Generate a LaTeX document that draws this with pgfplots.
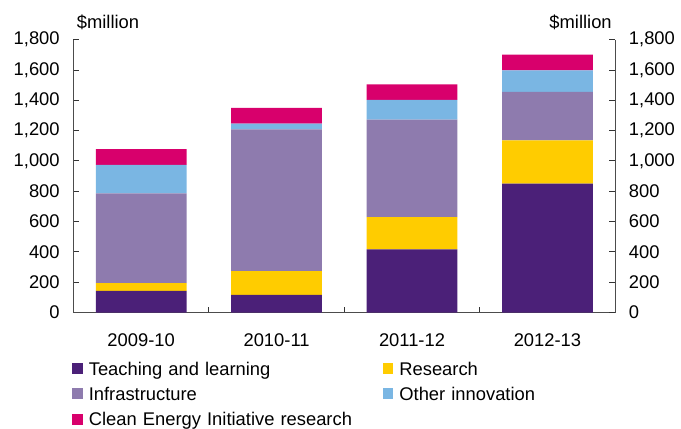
\documentclass[border=0pt]{standalone}
\usepackage{fontspec}
\setmainfont{Liberation Sans}
\usepackage{pgfplots}
\pgfplotsset{compat=1.18}
\definecolor{cTeach}{RGB}{75,32,120}
\definecolor{cRes}{RGB}{255,204,0}
\definecolor{cInfra}{RGB}{142,123,174}
\definecolor{cOther}{RGB}{122,182,227}
\definecolor{cClean}{RGB}{216,0,108}
\begin{document}
\fontsize{18.5}{22}\selectfont
\begin{tikzpicture}
\pgfplotsset{
  common/.style={
    scale only axis, width=546pt, height=275pt,
    xmin=-0.5, xmax=3.5, ymin=0, ymax=1800,
    ytick={0,200,...,1800},
    /pgf/number format/assume math mode=true,
    /pgf/number format/1000 sep={,},
    tick align=inside,
    major tick length=6pt,
    minor tick length=6pt,
    axis line style={-, draw=black!70, line width=1pt},
    tick style={draw=black!80, line width=1pt},
  }
}
\begin{axis}[common,
  clip=false,
  axis x line*=bottom, axis y line*=left,
  ybar stacked, bar width=0.67,
  xtick={0,1,2,3}, xticklabels={2009-10,2010-11,2011-12,2012-13},
  minor xtick={0.5,1.5,2.5},
  major x tick style={draw=none},
  xticklabel style={yshift=-15pt},
  yticklabel style={xshift=-7.5pt},
  legend columns=2,
  legend cell align=left,
  legend style={at={(0,0)}, anchor=north west, xshift=-1.7pt, yshift=-50pt, draw=none, fill=none,
    inner sep=0pt, row sep=10pt,
    /tikz/column 2/.append style={nodes={text width=290pt}},
    /tikz/column 4/.append style={nodes={text width=200pt}},
    nodes={inner ysep=0pt, inner xsep=6pt, text height=13pt, text depth=2.5pt}},
  legend image code/.code={\fill[#1] (0pt,-4pt) rectangle (11pt,7pt);},
]
\addplot[fill=cTeach, draw=none] coordinates {(0,143) (1,117) (2,416) (3,851)};
\addlegendentry{Teaching and learning}
\addplot[fill=cRes, draw=none] coordinates {(0,52) (1,156) (2,214) (3,285)};
\addlegendentry{Research}
\addplot[fill=cInfra, draw=none] coordinates {(0,591) (1,935) (2,643) (3,319)};
\addlegendentry{Infrastructure}
\addplot[fill=cOther, draw=none] coordinates {(0,188) (1,39) (2,130) (3,142)};
\addlegendentry{Other innovation}
\addplot[fill=cClean, draw=none] coordinates {(0,104) (1,104) (2,103) (3,104)};
\addlegendentry{Clean Energy Initiative research}
\node[anchor=base west, inner sep=0pt] at (rel axis cs:0,1) [xshift=3.3pt, yshift=11pt] {\$million};
\node[anchor=base east, inner sep=0pt] at (rel axis cs:1,1) [xshift=-3.3pt, yshift=11pt] {\$million};
\end{axis}
\begin{axis}[common,
  axis y line*=right, axis x line=none,
  yticklabel style={xshift=7.5pt},
]
\addplot[draw=none] coordinates {(0,0)};
\end{axis}
\path (-74pt,-117pt) rectangle (607pt,315pt);
\end{tikzpicture}
\end{document}
